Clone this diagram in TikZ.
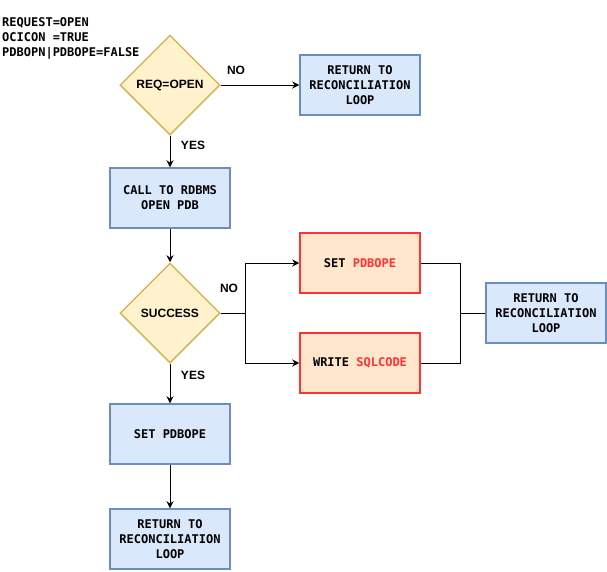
\documentclass[tikz,border=0pt]{standalone}
\usepackage{fontspec}
\setmainfont{Liberation Sans}
\setmonofont{DejaVu Sans Mono}
\usetikzlibrary{shapes.geometric}
\usetikzlibrary{arrows.meta}
\definecolor{blueFill}{HTML}{DAE8FC}
\definecolor{blueLine}{HTML}{6C8EBF}
\definecolor{yellowFill}{HTML}{FFF2CC}
\definecolor{yellowLine}{HTML}{D6B656}
\definecolor{orangeFill}{HTML}{FFE6CC}
\definecolor{redLine}{HTML}{FF3333}
\definecolor{redText}{HTML}{FF3333}

\begin{document}
\begin{tikzpicture}
[x=1pt,y=-1pt,
  lineDecorate/.style={-{Stealth[length=7pt,width=7pt]},line width=1pt},%
  joinDecorate/.style={-,line width=1pt},%
  boxDecorate/.style={shape=rectangle,draw=blueLine,fill=blueFill,line width=1.5pt,
    minimum width=120pt,minimum height=60pt,inner sep=0pt,align=center,
    font=\ttfamily\bfseries\fontsize{12}{15}\selectfont},%
  alertDecorate/.style={boxDecorate,draw=redLine,fill=orangeFill},%
  decisionDecorate/.style={shape=diamond,draw=yellowLine,fill=yellowFill,line width=1.5pt,
    minimum width=100pt,minimum height=100pt,inner sep=0pt,
    font=\bfseries\fontsize{12}{15}\selectfont},%
  labelDecorate/.style={inner sep=0pt,font=\bfseries\fontsize{12}{15}\selectfont}]
\useasboundingbox (0,0) rectangle (607,571);
%% nodes or vertices
\foreach \nodename/\x/\y/\kind/\txt in {
  reqOpen/170/85/decisionDecorate/{REQ=OPEN},
  retFirst/360/85/boxDecorate/{RETURN TO\\RECONCILIATION\\LOOP},
  callOpen/170/198/boxDecorate/{CALL TO RDBMS\\OPEN PDB},
  success/170/313/decisionDecorate/{SUCCESS},
  setFail/360/263/alertDecorate/{SET {\color{redText}PDBOPE}},
  writeCode/360/363/alertDecorate/{WRITE {\color{redText}SQLCODE}},
  retFail/546/313/boxDecorate/{RETURN TO\\RECONCILIATION\\LOOP},
  setDone/170/434/boxDecorate/{SET PDBOPE},
  retDone/170/539/boxDecorate/{RETURN TO\\RECONCILIATION\\LOOP}}
{
  \node (\nodename) at (\x,\y) [\kind] {\txt};
}
\node (state) at (2,17) [anchor=north west,inner sep=0pt,align=left,
  font=\ttfamily\bfseries\fontsize{12}{15}\selectfont]
  {REQUEST=OPEN\\OCICON =TRUE\\PDBOPN|PDBOPE=FALSE};
%% labels
\foreach \nodename/\x/\y/\txt in {
  noFirst/236/70/NO, yesFirst/193/145/YES,
  noSecond/229/288/NO, yesSecond/193/375/YES}
{
  \node (\nodename) at (\x,\y) [labelDecorate] {\txt};
}
%% edges or lines
\path
\foreach \startnode/\endnode in {
  reqOpen/retFirst, reqOpen/callOpen, callOpen/success,
  success/setDone, setDone/retDone}
{
  (\startnode) edge[lineDecorate] (\endnode)
};
\coordinate (split) at (245,313);
\coordinate (join) at (460,313);
\draw[joinDecorate] (success.east) -- (split);
\draw[lineDecorate] (split) |- (setFail.west);
\draw[lineDecorate] (split) |- (writeCode.west);
\draw[joinDecorate] (setFail.east) -| (join);
\draw[joinDecorate] (writeCode.east) -| (join);
\draw[joinDecorate] (join) -- (retFail.west);
\end{tikzpicture}
\end{document}
